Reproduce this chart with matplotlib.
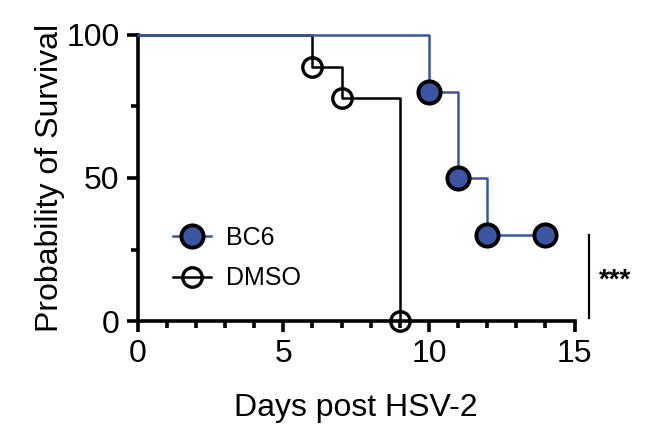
import matplotlib.pyplot as plt
from matplotlib.ticker import MultipleLocator

plt.rcParams['font.family'] = ['Liberation Sans', 'DejaVu Sans']

# Kaplan-Meier Daten (Tage, Ueberleben in %)
bc6_days = [0, 10, 11, 12, 14]
bc6_surv = [100, 80, 50, 30, 30]
dmso_days = [0, 6, 7, 9]
dmso_surv = [100, 88.9, 77.8, 0]

blue = '#3b55a2'

fig = plt.figure(figsize=(6.62, 4.34), dpi=100)
ax = fig.add_axes([0.208, 0.26, 0.66, 0.66])

# Stufenlinien
ax.step(dmso_days, dmso_surv, where='post', color='black', lw=1.8, zorder=3, clip_on=False)
ax.step(bc6_days, bc6_surv, where='post', color=blue, lw=1.8, zorder=4, clip_on=False)

# Marker an den Ereignissen
ax.plot(dmso_days[1:], dmso_surv[1:], 'o', ms=14, mfc='none', mec='black', mew=2.4,
        zorder=5, clip_on=False)
ax.plot(bc6_days[1:], bc6_surv[1:], 'o', ms=16, mfc=blue, mec='black', mew=2.8,
        zorder=6, clip_on=False)

# Legende
h1, = ax.plot([], [], '-o', color=blue, lw=1.8, ms=16, mfc=blue, mec='black', mew=2.8)
h2, = ax.plot([], [], '-o', color='black', lw=1.8, ms=14, mfc='none', mec='black', mew=2.4)
ax.legend([h1, h2], ['BC6', 'DMSO'], loc='upper left', bbox_to_anchor=(0.03, 0.41),
          frameon=False, fontsize=18, handlelength=1.5, handletextpad=0.6, labelspacing=0.65)

ax.set_xlim(0, 15)
ax.set_ylim(0, 100)
ax.set_xticks([0, 5, 10, 15])
ax.set_yticks([0, 50, 100])
ax.xaxis.set_minor_locator(MultipleLocator(1))
ax.yaxis.set_minor_locator(MultipleLocator(25))

for s in ['top', 'right']:
    ax.spines[s].set_visible(False)
for s in ['left', 'bottom']:
    ax.spines[s].set_linewidth(2.6)

ax.tick_params(which='major', length=8, width=2.6, labelsize=23, pad=5)
ax.tick_params(which='minor', length=5, width=2.6)

ax.set_xlabel('Days post HSV-2', fontsize=23, labelpad=17)
ax.set_ylabel('Probability of Survival', fontsize=23, labelpad=1)

# Signifikanz
ax.plot([15.5, 15.5], [30, 1], color='black', lw=1.6, clip_on=False)
ax.text(15.85, 14, '***', fontsize=20, va='center', ha='left', fontweight='bold')

fig.savefig('out.png', dpi=100)
